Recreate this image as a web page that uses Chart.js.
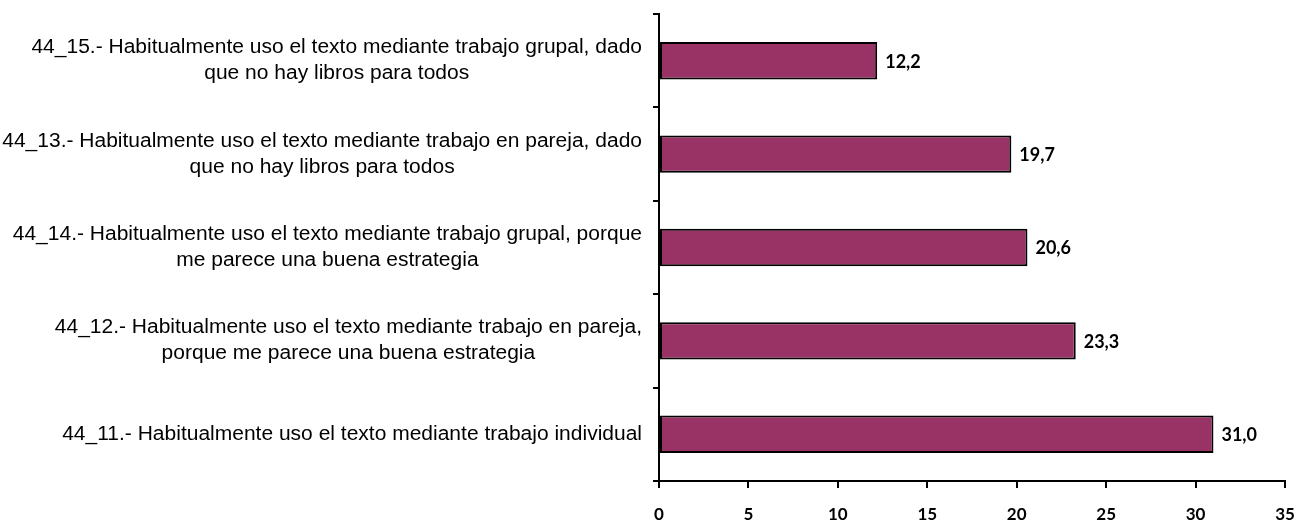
<!DOCTYPE html>
<html>
<head>
<meta charset="utf-8">
<script src="https://cdn.jsdelivr.net/npm/chart.js@4"></script>
<style>
  html, body { margin: 0; padding: 0; background: #fff; }
  #wrap { width: 1297px; height: 521px; }
</style>
</head>
<body>
<div id="wrap"><canvas id="usoChart"></canvas></div>
<script>
// DATA
const categories = [
    ['44_15.- Habitualmente uso el texto mediante trabajo grupal, dado', 'que no hay libros para todos'],
    ['44_13.- Habitualmente uso el texto mediante trabajo en pareja, dado', 'que no hay libros para todos'],
    ['44_14.- Habitualmente uso el texto mediante trabajo grupal, porque', 'me parece una buena estrategia'],
    ['44_12.- Habitualmente uso el texto mediante trabajo en pareja,', 'porque me parece una buena estrategia'],
    ['44_11.- Habitualmente uso el texto mediante trabajo individual']
];
const porcentajes = [12.2, 19.7, 20.6, 23.3, 31.0];
const xTicks = [0, 5, 10, 15, 20, 25, 30, 35];

const labelFont = '20px "Liberation Sans", Arial, sans-serif';
const labelStretch = 1.05;   // reference text is a bit wider than plain Arial
const valueFont = 'bold 18px Lato, "Open Sans", sans-serif';

// y labels: block right-aligned, each line centered inside the block
const yLabelPlugin = {
    id: 'yLabels',
    afterDraw(chart) {
        const ctx = chart.ctx;
        const yScale = chart.scales.y;
        const right = chart.chartArea.left - 17;
        const lineH = 26;
        ctx.save();
        ctx.font = labelFont;
        ctx.fillStyle = '#000';
        ctx.textAlign = 'center';
        ctx.textBaseline = 'middle';
        categories.forEach((lines, i) => {
            const w = Math.max(...lines.map(l => ctx.measureText(l).width)) * labelStretch;
            const cx = right - w / 2;
            const cy = yScale.getPixelForValue(i);
            const y0 = cy - (lines.length - 1) * lineH / 2;
            lines.forEach((l, j) => {
                ctx.save();
                ctx.translate(cx, y0 + j * lineH);
                ctx.scale(labelStretch, 1);
                ctx.fillText(l, 0, 0);
                ctx.restore();
            });
        });
        ctx.restore();
    }
};

// value labels at end of bars
const valueLabelPlugin = {
    id: 'valueLabels',
    afterDatasetsDraw(chart) {
        const ctx = chart.ctx;
        const meta = chart.getDatasetMeta(0);
        ctx.save();
        ctx.font = valueFont;
        ctx.fillStyle = '#000';
        ctx.textAlign = 'left';
        ctx.textBaseline = 'middle';
        meta.data.forEach((bar, i) => {
            ctx.fillText(porcentajes[i].toFixed(1).replace('.', ','), bar.x + 8, bar.y + 1);
        });
        ctx.restore();
    }
};

new Chart(document.getElementById('usoChart'), {
    type: 'bar',
    data: {
        labels: categories,
        datasets: [{
            data: porcentajes,
            backgroundColor: '#993366',
            borderColor: '#000',
            borderWidth: 2,
            borderSkipped: false,
            categoryPercentage: 1,
            barPercentage: 0.4
        }]
    },
    options: {
        indexAxis: 'y',
        responsive: true,
        maintainAspectRatio: false,
        animation: false,
        layout: { padding: { top: 14, right: 0, bottom: 0, left: 0 } },
        scales: {
            x: {
                min: 0,
                max: 35,
                afterBuildTicks: s => { s.ticks = xTicks.map(v => ({ value: v })); },
                afterFit: s => {
                    s.height = 40;
                    s.paddingLeft = 0;
                    s.paddingRight = 12;
                },
                border: { display: true, color: '#000', width: 2 },
                grid: { display: true, drawOnChartArea: false, drawTicks: true, tickLength: 7, color: '#000', lineWidth: 2 },
                ticks: {
                    color: '#000',
                    font: { family: 'Lato, "Open Sans", sans-serif', size: 17, weight: 'bold' },
                    padding: 16,
                    maxRotation: 0
                }
            },
            y: {
                afterFit: s => { s.width = 659; },
                border: { display: true, color: '#000', width: 2 },
                grid: { display: true, offset: true, drawOnChartArea: false, drawTicks: true, tickLength: 6, color: '#000', lineWidth: 2 },
                ticks: { display: false }
            }
        },
        plugins: {
            legend: { display: false },
            tooltip: { enabled: false }
        }
    },
    plugins: [yLabelPlugin, valueLabelPlugin]
});
</script>
</body>
</html>
